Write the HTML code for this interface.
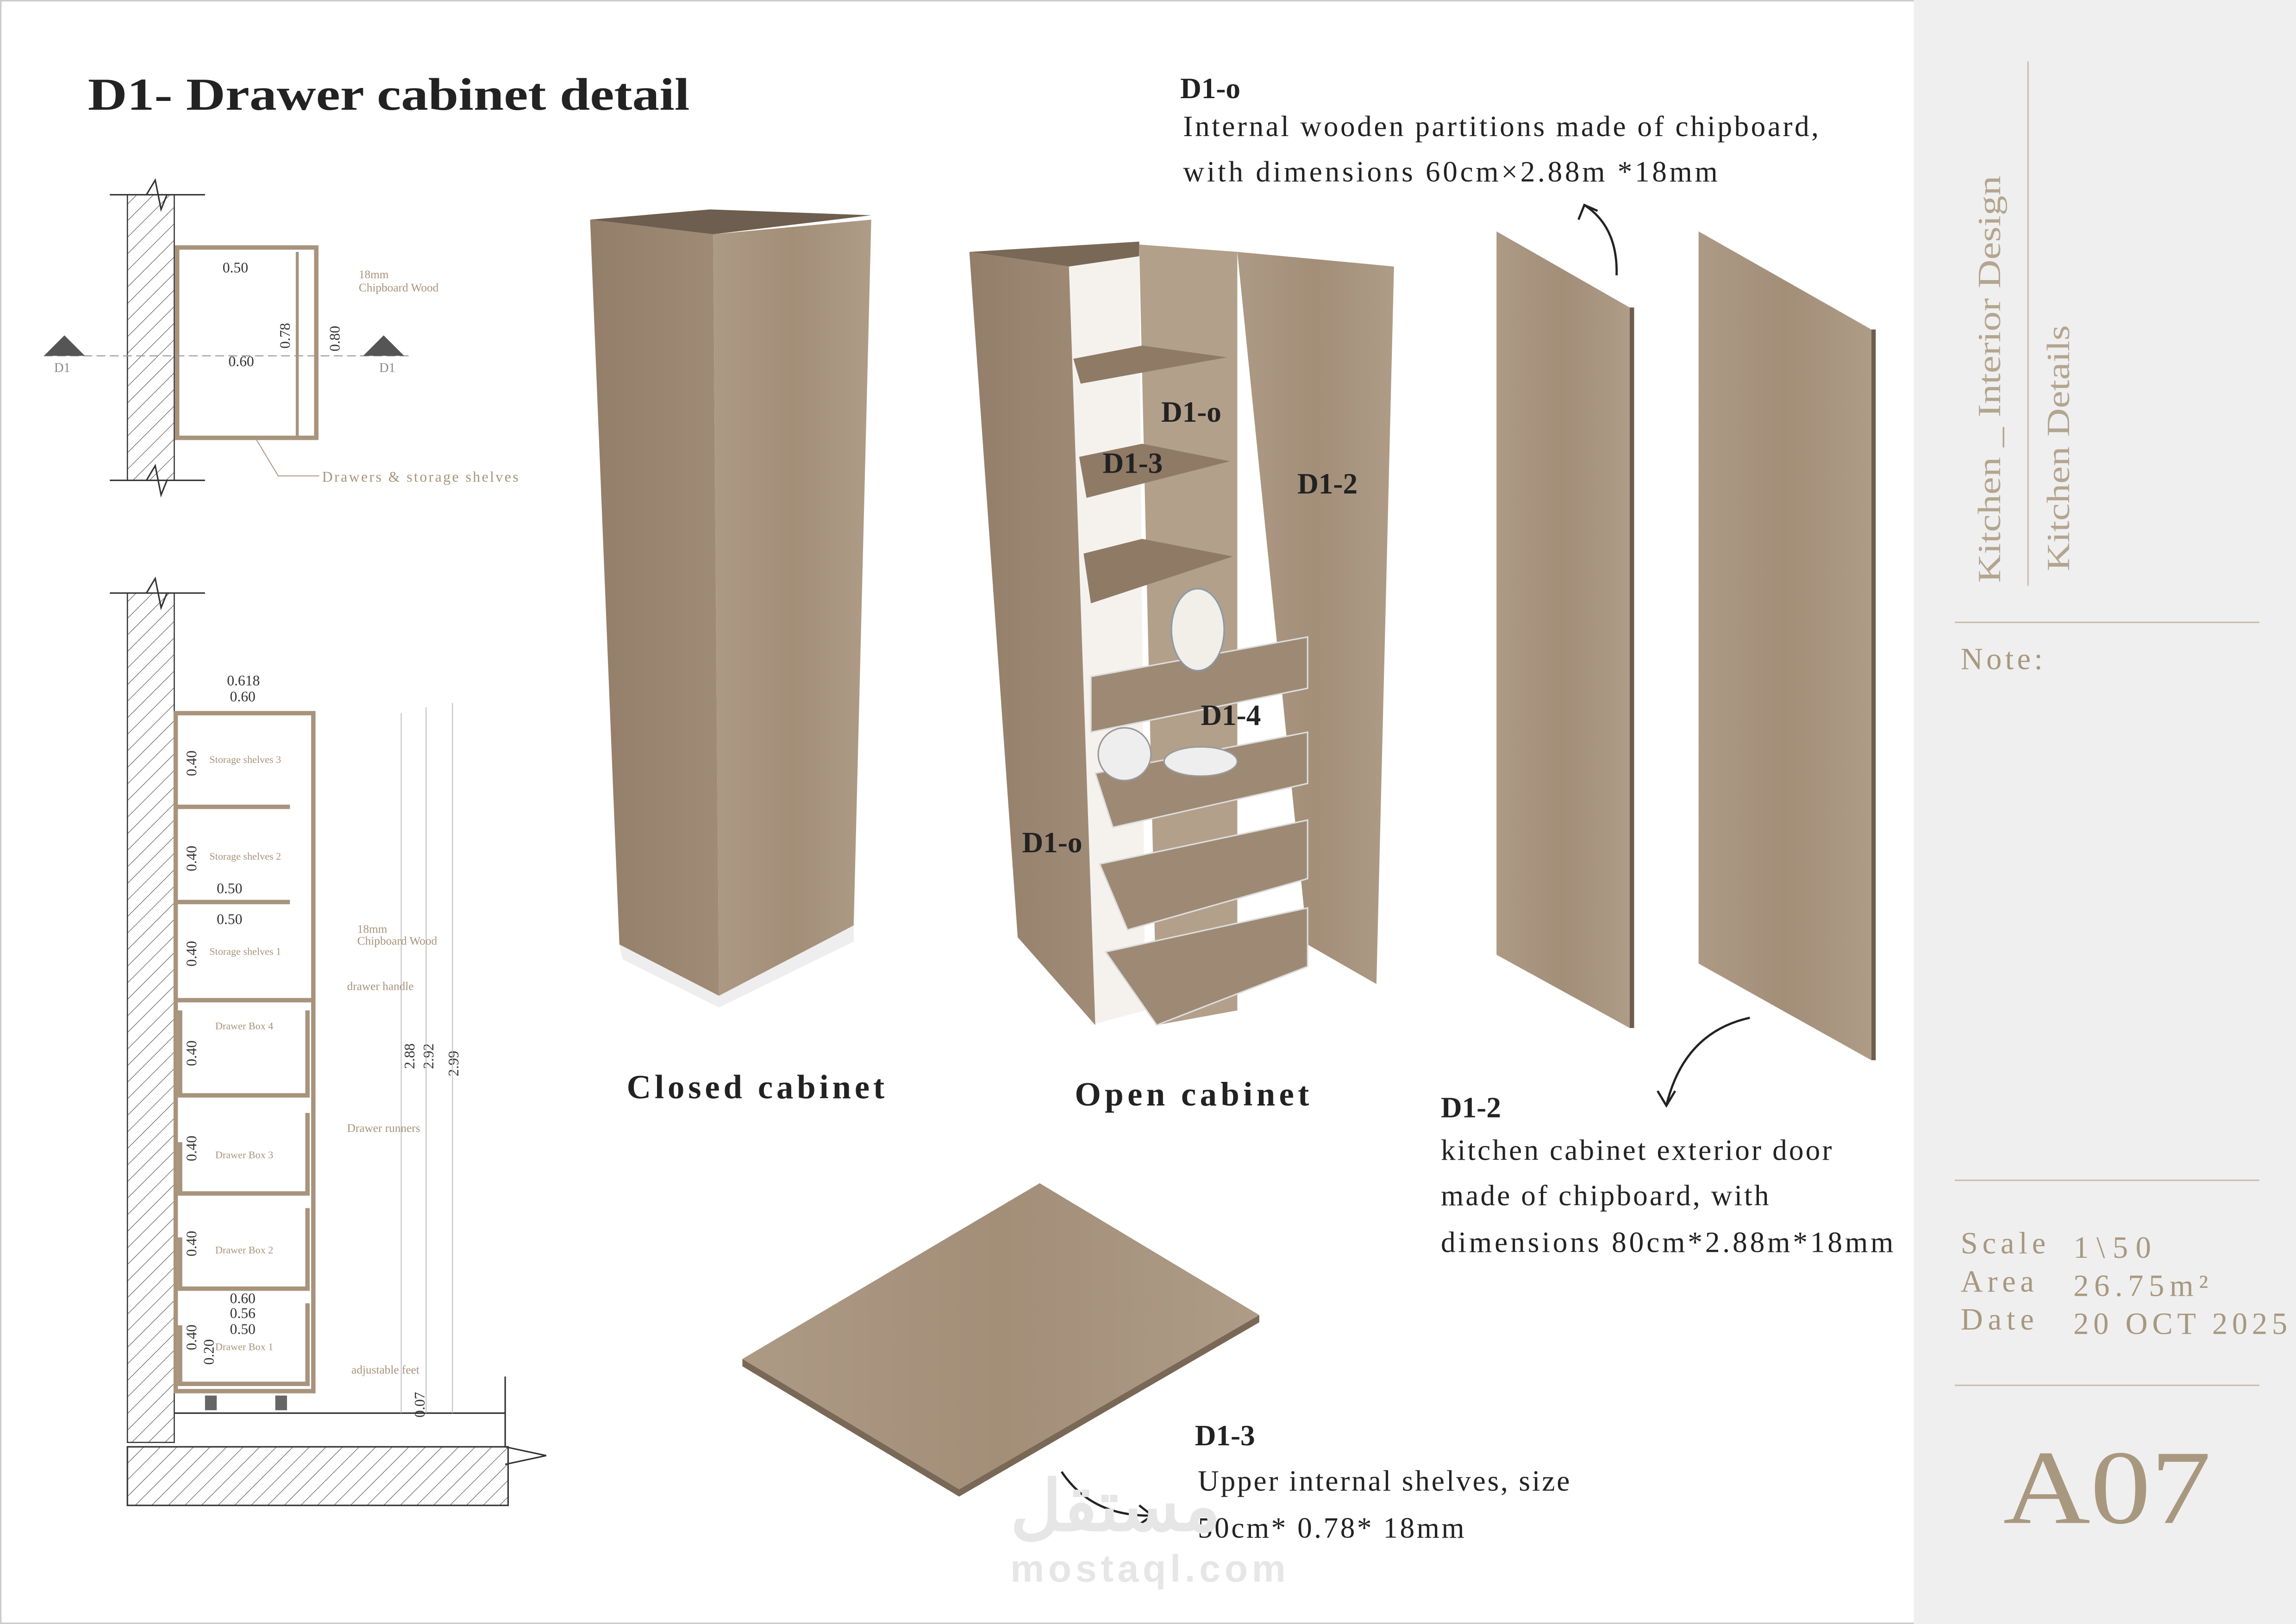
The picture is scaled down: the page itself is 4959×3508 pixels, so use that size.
<!DOCTYPE html>
<html><head><meta charset="utf-8">
<style>
html,body{margin:0;padding:0;background:#fff;}
svg{display:block;}
.s{font-family:"Liberation Serif",serif;}
</style></head>
<body>
<svg width="4959" height="3508" viewBox="0 0 1568 1109" preserveAspectRatio="none" xmlns="http://www.w3.org/2000/svg">
<defs>
<linearGradient id="w" x1="0" y1="0" x2="1" y2="0">
<stop offset="0" stop-color="#ad9a85"/><stop offset="0.5" stop-color="#a38e78"/><stop offset="1" stop-color="#ae9c87"/></linearGradient>
<linearGradient id="wd" x1="0" y1="0" x2="1" y2="0">
<stop offset="0" stop-color="#937e6a"/><stop offset="1" stop-color="#a08b76"/></linearGradient>
<pattern id="hatch" width="8" height="8" patternUnits="userSpaceOnUse" patternTransform="rotate(45)"><line x1="0" y1="0" x2="0" y2="8" stroke="#333" stroke-width="0.6"/></pattern>
</defs>
<rect width="1568" height="1109" fill="#fff"/>
<rect x="0.5" y="0.5" width="1567" height="1108" fill="none" stroke="#ccc"/>
<rect x="1307" y="0" width="261" height="1109" fill="#efefef"/>
<line x1="1385" y1="42" x2="1385" y2="400" stroke="#c9bfae" stroke-width="1"/>
<line x1="1335" y1="425" x2="1543" y2="425" stroke="#c9bfae"/>
<line x1="1335" y1="806" x2="1543" y2="806" stroke="#c9bfae"/>
<line x1="1335" y1="946" x2="1543" y2="946" stroke="#c9bfae"/>
<text class="s" transform="translate(1366,398) rotate(-90)" font-size="22" fill="#b3a58f" textLength="278" lengthAdjust="spacingAndGlyphs">Kitchen _ Interior Design</text>
<text class="s" transform="translate(1413,390) rotate(-90)" font-size="22" fill="#b3a58f" textLength="168" lengthAdjust="spacingAndGlyphs">Kitchen Details</text>
<text class="s" x="1339" y="457" font-size="21" fill="#a8987f" textLength="56">Note:</text>
<g class="s" font-size="21" fill="#a8987f">
<text x="1339" y="856" textLength="58">Scale</text><text x="1416" y="859" textLength="53">1\50</text>
<text x="1339" y="882" textLength="50">Area</text><text x="1416" y="885" textLength="92">26.75m²</text>
<text x="1339" y="908" textLength="50">Date</text><text x="1416" y="911" textLength="146">20 OCT 2025</text>
</g>
<text class="s" x="1368" y="1040" font-size="72" fill="#a8987f" textLength="142" lengthAdjust="spacingAndGlyphs">A07</text>

<text class="s" x="60" y="75" font-size="31" font-weight="bold" fill="#222" textLength="411" lengthAdjust="spacingAndGlyphs">D1- Drawer cabinet detail</text>

<rect x="87" y="133" width="32" height="195" fill="url(#hatch)" stroke="#333" stroke-width="0.8"/>
<line x1="75" y1="133" x2="140" y2="133" stroke="#333"/><line x1="75" y1="328" x2="140" y2="328" stroke="#333"/>
<path d="M100 133 l6 -10 l4 20 l4 -10" fill="none" stroke="#333"/>
<path d="M100 328 l6 -10 l4 20 l4 -10" fill="none" stroke="#333"/>
<rect x="121" y="169" width="95" height="130" fill="none" stroke="#a8937c" stroke-width="3"/>
<line x1="203" y1="172" x2="203" y2="298" stroke="#a8937c" stroke-width="2"/>
<line x1="30" y1="243" x2="280" y2="243" stroke="#999" stroke-dasharray="6 3" stroke-width="0.7"/>
<path d="M30 243 l14 -14 l14 14 z" fill="#555"/><path d="M248 243 l14 -14 l14 14 z" fill="#555"/>
<g class="s" font-size="9" fill="#888"><text x="37" y="254">D1</text><text x="259" y="254">D1</text></g>
<g class="s" font-size="10" fill="#333"><text x="152" y="186">0.50</text><text x="156" y="250">0.60</text>
<text transform="translate(198,238) rotate(-90)">0.78</text><text transform="translate(232,240) rotate(-90)">0.80</text></g>
<g class="s" font-size="8" fill="#a8937c"><text x="245" y="190">18mm</text><text x="245" y="199">Chipboard Wood</text>
<text x="220" y="329" font-size="10" textLength="134">Drawers &amp; storage shelves</text></g>
<path d="M175 300 L190 325 L218 325" fill="none" stroke="#a8937c" stroke-width="0.6"/>

<rect x="87" y="405" width="32" height="580" fill="url(#hatch)" stroke="#333" stroke-width="0.8"/>
<line x1="75" y1="405" x2="140" y2="405" stroke="#333"/>
<path d="M100 405 l6 -10 l4 20 l4 -10" fill="none" stroke="#333"/>
<rect x="87" y="988" width="260" height="40" fill="url(#hatch)" stroke="#333"/>
<line x1="119" y1="965" x2="345" y2="965" stroke="#333"/>
<line x1="345" y1="940" x2="345" y2="988" stroke="#333"/>
<path d="M345 988 l28 6 l-28 6" fill="none" stroke="#333"/>
<g stroke="#a8937c" stroke-width="3" fill="none">
<path d="M120 487 H214 V950 H120 Z"/>
<line x1="120" y1="551" x2="198" y2="551"/><line x1="120" y1="616" x2="198" y2="616"/><line x1="120" y1="683" x2="214" y2="683"/>
<path d="M123 690 V748 H210 V690"/><path d="M123 780 V815 H210 V760"/><path d="M123 845 V880 H210 V825"/><path d="M123 905 V945 H210 V890"/>
</g>
<g class="s" font-size="10" fill="#333">
<text x="155" y="468">0.618</text><text x="157" y="479">0.60</text>
<text x="148" y="610">0.50</text><text x="148" y="631">0.50</text>
<text x="157" y="890">0.60</text><text x="157" y="900">0.56</text><text x="157" y="911">0.50</text>
<text transform="translate(134,530) rotate(-90)">0.40</text><text transform="translate(134,595) rotate(-90)">0.40</text>
<text transform="translate(134,660) rotate(-90)">0.40</text><text transform="translate(134,728) rotate(-90)">0.40</text>
<text transform="translate(134,793) rotate(-90)">0.40</text><text transform="translate(134,858) rotate(-90)">0.40</text>
<text transform="translate(134,922) rotate(-90)">0.40</text><text transform="translate(146,932) rotate(-90)">0.20</text>
<text transform="translate(283,730) rotate(-90)">2.88</text><text transform="translate(296,730) rotate(-90)">2.92</text>
<text transform="translate(313,735) rotate(-90)">2.99</text><text transform="translate(290,968) rotate(-90)">0.07</text>
</g>
<g stroke="#bbb" stroke-width="0.6"><line x1="274" y1="487" x2="274" y2="965"/><line x1="291" y1="483" x2="291" y2="965"/><line x1="309" y1="480" x2="309" y2="965"/></g>
<g class="s" font-size="7" fill="#a8937c">
<text x="143" y="521">Storage shelves 3</text><text x="143" y="587">Storage shelves 2</text><text x="143" y="652">Storage shelves 1</text>
<text x="147" y="703">Drawer Box 4</text><text x="147" y="791">Drawer Box 3</text><text x="147" y="856">Drawer Box 2</text><text x="147" y="922">Drawer Box 1</text>
<text x="244" y="637" font-size="8">18mm</text><text x="244" y="645" font-size="8">Chipboard Wood</text>
<text x="237" y="676" font-size="8">drawer handle</text><text x="237" y="773" font-size="8">Drawer runners</text>
<text x="240" y="938" font-size="8">adjustable feet</text>
</g>
<g fill="#666"><rect x="140" y="953" width="8" height="10"/><rect x="188" y="953" width="8" height="10"/></g>

<polygon points="403,150 485,143 595,147 487,160" fill="#6e5e4f"/>
<polygon points="403,150 487,160 491,680 423,645" fill="url(#wd)"/>
<polygon points="487,160 595,150 583,632 491,680" fill="url(#w)"/>
<polygon points="423,645 491,680 583,632 583,643 491,688 425,655" fill="#eee"/>
<text class="s" x="428" y="750" font-size="23" font-weight="bold" fill="#222" textLength="176">Closed cabinet</text>

<polygon points="728,178 778,170 782,690 745,700" fill="#f5f2ee"/>
<polygon points="662,172 778,165 778,175 730,182" fill="#7a6857"/>
<polygon points="662,172 730,182 748,700 695,640" fill="url(#wd)"/>
<polygon points="778,167 845,172 845,690 790,700" fill="#b3a08a"/>
<polygon points="845,172 952,182 940,672 893,645" fill="url(#w)"/>
<g fill="#8f7a66">
<polygon points="733,245 780,236 838,244 738,262"/>
<polygon points="737,312 780,303 840,315 742,340"/>
<polygon points="740,378 780,368 842,380 745,412"/>
</g>
<g fill="#9e8a74" stroke="#ddd" stroke-width="1">
<polygon points="745,462 893,435 893,470 745,500"/>
<polygon points="748,528 893,500 893,535 760,565"/>
<polygon points="751,590 893,560 893,600 770,635"/>
<polygon points="755,650 893,620 893,660 790,700"/>
</g>
<ellipse cx="818" cy="430" rx="18" ry="28" fill="#f2efe9" stroke="#8899aa"/>
<ellipse cx="820" cy="520" rx="25" ry="10" fill="#eee" stroke="#999"/>
<ellipse cx="768" cy="515" rx="18" ry="18" fill="#eee" stroke="#999"/>
<g class="s" font-size="20" font-weight="bold" fill="#222">
<text x="793" y="288">D1-o</text><text x="753" y="323">D1-3</text><text x="886" y="337">D1-2</text>
<text x="820" y="495">D1-4</text><text x="698" y="582">D1-o</text>
</g>
<text class="s" x="734" y="755" font-size="23" font-weight="bold" fill="#222" textLength="160">Open cabinet</text>

<polygon points="1022,158 1113,210 1113,702 1022,652" fill="url(#w)"/>
<polygon points="1160,158 1278,225 1278,724 1160,658" fill="url(#w)"/>
<polygon points="1113,210 1116,210 1116,702 1113,702" fill="#6e5e4f"/>
<polygon points="1278,225 1281,225 1281,724 1278,724" fill="#6e5e4f"/>

<polygon points="507,928 710,808 860,898 655,1017" fill="url(#w)"/>
<polygon points="507,928 655,1017 860,898 860,903 655,1022 507,933" fill="#7a6857"/>

<g class="s" fill="#222">
<text x="806" y="67" font-size="20" font-weight="bold">D1-o</text>
<text x="808" y="93" font-size="20" textLength="434">Internal wooden partitions made of chipboard,</text>
<text x="808" y="124" font-size="20" textLength="365">with dimensions 60cm×2.88m *18mm</text>
<text x="984" y="763" font-size="20" font-weight="bold">D1-2</text>
<text x="984" y="792" font-size="20" textLength="267">kitchen cabinet exterior door</text>
<text x="984" y="823" font-size="20" textLength="224">made of chipboard, with</text>
<text x="984" y="855" font-size="20" textLength="309">dimensions 80cm*2.88m*18mm</text>
<text x="816" y="987" font-size="20" font-weight="bold">D1-3</text>
<text x="818" y="1018" font-size="20" textLength="254">Upper internal shelves, size</text>
<text x="818" y="1050" font-size="20" textLength="182">50cm* 0.78* 18mm</text>
</g>
<g fill="none" stroke="#222" stroke-width="1.5">
<path d="M1104 188 Q1105 155 1082 140"/><path d="M1078 150 l4 -10 l9 4"/>
<path d="M1195 695 Q1150 705 1138 755"/><path d="M1132 745 l6 10 l6 -10"/>
<path d="M725 1005 Q745 1035 785 1035"/><path d="M778 1028 l9 7 l-9 6"/>
</g>
<text x="690" y="1045" font-family="Liberation Sans,sans-serif" font-size="48" font-weight="bold" fill="#e6e6e6">مستقل</text>
<text x="690" y="1080" font-family="Liberation Sans,sans-serif" font-size="26" font-weight="bold" fill="#e6e6e6" textLength="188">mostaql.com</text>
</svg>
</body></html>
